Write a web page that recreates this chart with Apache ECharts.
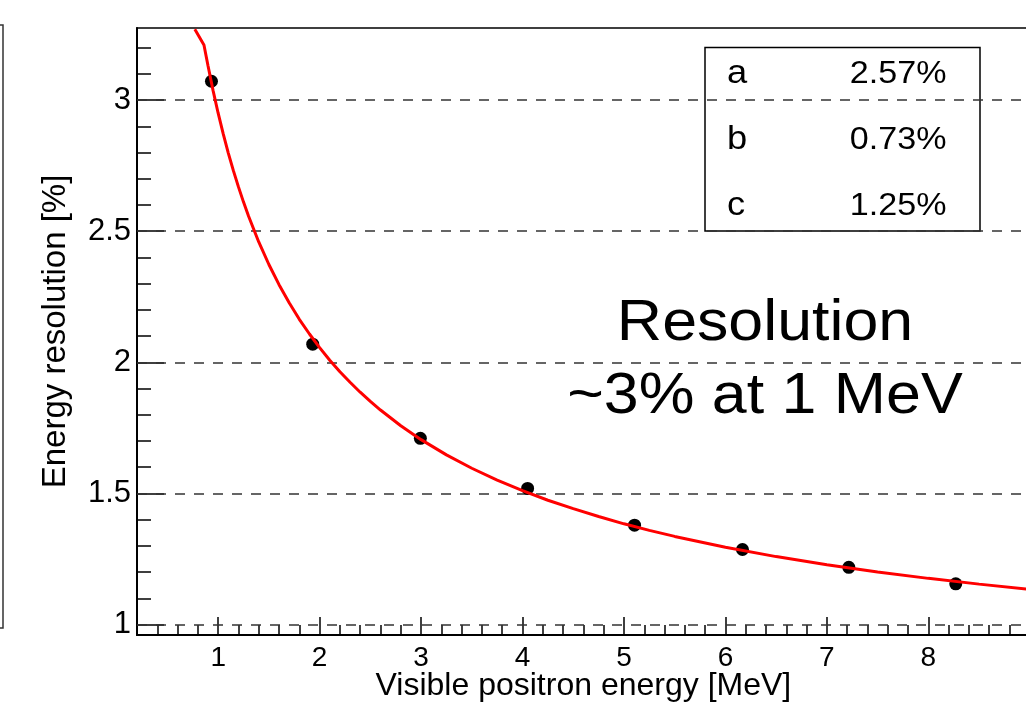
<!DOCTYPE html>
<html>
<head>
<meta charset="utf-8">
<script src="https://cdn.jsdelivr.net/npm/echarts@6/dist/echarts.min.js"></script>
<style>
  html, body { margin: 0; padding: 0; background: #ffffff; }
  #chart { width: 1026px; height: 707px; }
</style>
</head>
<body>
<div id="chart"></div>
<script>
// Measured points: visible positron energy [MeV] vs. energy resolution [%]
const energy     = [0.934, 1.932, 2.993, 4.050, 5.104, 6.168, 7.216, 8.270];
const resolution = [3.072, 2.069, 1.710, 1.519, 1.379, 1.286, 1.218, 1.155];

// Fitted resolution curve, sampled along the energy axis
const fitEnergy = [0.77, 0.86, 0.90, 0.95, 1.00, 1.05, 1.10, 1.15, 1.20, 1.25,
                   1.30, 1.40, 1.50, 1.60, 1.70, 1.80, 1.90, 2.00, 2.10, 2.20,
                   2.30, 2.40, 2.50, 2.60, 2.80, 3.00, 3.25, 3.50, 3.75, 4.00,
                   4.25, 4.50, 4.75, 5.00, 5.25, 5.50, 6.00, 6.50, 7.00, 7.50,
                   8.00, 8.50, 9.00];
const fitResolution = [3.270, 3.210, 3.131, 3.036, 2.950, 2.871, 2.798, 2.731, 2.669, 2.611,
                       2.557, 2.459, 2.373, 2.296, 2.227, 2.164, 2.108, 2.056, 2.008, 1.964,
                       1.924, 1.886, 1.851, 1.818, 1.758, 1.705, 1.647, 1.596, 1.551, 1.511,
                       1.474, 1.442, 1.412, 1.384, 1.359, 1.336, 1.295, 1.259, 1.228, 1.200,
                       1.176, 1.154, 1.134];

// Fit parameters shown in the stats box
const fitParams = ['a', 'b', 'c'];
const fitValues = ['2.57%', '0.73%', '1.25%'];

// Axis ticks and labels
const xLabels = [1, 2, 3, 4, 5, 6, 7, 8];
const xMajorTicks = [1, 2, 3, 4, 5, 6, 7, 8, 9];
const yMajorTicks = [1, 1.5, 2, 2.5, 3];
const xMinorTicks = [];
for (let k = 2; k <= 44; k++) xMinorTicks.push(Math.round(k * 2) / 10);
const yMinorTicks = [];
for (let k = 10; k <= 32; k++) yMinorTicks.push(k / 10);

const FONT = "'Liberation Sans', Arial, Helvetica, sans-serif";
const X_MIN = 0.2, X_MAX = 9.0, Y_MIN = 0.96, Y_MAX = 3.275;

const chart = echarts.init(document.getElementById('chart'), null, { renderer: 'canvas' });

const option = {
  animation: false,
  backgroundColor: '#ffffff',
  textStyle: { fontFamily: FONT, color: '#000' },
  grid: [
    { left: 137, top: 28, width: 892.8, height: 607, show: true, outerBoundsMode: 'none',
      borderColor: '#000', borderWidth: 1.5, backgroundColor: 'transparent', containLabel: false },
    // neighbouring panel frame at the left margin
    { left: -100, top: 25, width: 103, height: 603, show: true, outerBoundsMode: 'none',
      borderColor: '#333', borderWidth: 1.5, backgroundColor: 'transparent', containLabel: false }
  ],
  xAxis: [
    {
      gridIndex: 0, type: 'value', min: X_MIN, max: X_MAX, position: 'bottom',
      axisLine: { show: true, onZero: false, lineStyle: { color: '#000', width: 2 } },
      axisTick: { show: true, inside: true, length: 18, customValues: xMajorTicks,
                  lineStyle: { color: '#000', width: 1.5 } },
      axisLabel: { show: true, customValues: xLabels, fontSize: 28, color: '#000',
                   margin: 9, fontFamily: FONT },
      splitLine: { show: false },
      name: 'Visible positron energy [MeV]', nameLocation: 'middle', nameGap: 35,
      nameMoveOverlap: false,
      nameTextStyle: { fontSize: 32, color: '#000', fontFamily: FONT }
    },
    {
      gridIndex: 0, type: 'value', min: X_MIN, max: X_MAX, position: 'bottom',
      axisLine: { show: false },
      axisTick: { show: true, inside: true, length: 10, customValues: xMinorTicks,
                  lineStyle: { color: '#000', width: 1.5 } },
      axisLabel: { show: false }, splitLine: { show: false }
    },
    { gridIndex: 1, type: 'value', show: false, min: 0, max: 1 }
  ],
  yAxis: [
    {
      gridIndex: 0, type: 'value', min: Y_MIN, max: Y_MAX, position: 'left',
      axisLine: { show: true, onZero: false, lineStyle: { color: '#000', width: 2 } },
      axisTick: { show: true, inside: true, length: 27, customValues: yMajorTicks,
                  lineStyle: { color: '#000', width: 1.5 } },
      axisLabel: { show: true, customValues: yMajorTicks, fontSize: 31, color: '#000',
                   margin: 6, fontFamily: FONT },
      splitLine: { show: false },
      name: 'Energy resolution [%]', nameLocation: 'middle', nameGap: 65,
      nameMoveOverlap: false,
      nameTextStyle: { fontSize: 33, color: '#000', fontFamily: FONT }
    },
    {
      gridIndex: 0, type: 'value', min: Y_MIN, max: Y_MAX, position: 'left',
      axisLine: { show: false },
      axisTick: { show: true, inside: true, length: 14, customValues: yMinorTicks,
                  lineStyle: { color: '#000', width: 1.5 } },
      axisLabel: { show: false }, splitLine: { show: false }
    },
    {
      gridIndex: 1, type: 'value', min: 0, max: 7.9, interval: 1, inverse: true, position: 'right',
      axisLine: { show: true, lineStyle: { color: '#333', width: 1.5 } },
      axisTick: { show: true, inside: true, length: 8, lineStyle: { color: '#333', width: 1.5 } },
      axisLabel: { show: false }, splitLine: { show: false }
    }
  ],
  series: [
    {
      name: 'data', type: 'scatter', xAxisIndex: 0, yAxisIndex: 0,
      data: energy.map((e, i) => [e, resolution[i]]),
      symbol: 'circle', symbolSize: 13,
      itemStyle: { color: '#000', opacity: 1 }, z: 3,
      markLine: {
        silent: true, symbol: ['none', 'none'], label: { show: false },
        lineStyle: { type: [10, 9], color: '#333', width: 1.5, opacity: 1 },
        emphasis: { disabled: true },
        data: yMajorTicks.map(v => ({ yAxis: v })),
        z: 1
      }
    },
    {
      name: 'fit', type: 'line', xAxisIndex: 0, yAxisIndex: 0,
      data: fitEnergy.map((e, i) => [e, fitResolution[i]]),
      showSymbol: false, smooth: false, clip: true,
      lineStyle: { color: '#ff0000', width: 3 }, z: 4
    }
  ],
  graphic: [
    {
      type: 'group', z: 100,
      children: [
        { type: 'rect', shape: { x: 705, y: 47.5, width: 275, height: 183.5 },
          style: { fill: '#ffffff', stroke: '#000', lineWidth: 1.5 } }
      ].concat(fitParams.map((p, i) => ({
        type: 'text', x: 727, y: 74 + i * 66, scaleX: 1.1,
        style: { text: p, font: '33px ' + FONT, fill: '#000',
                 textAlign: 'left', textVerticalAlign: 'middle' }
      }))).concat(fitValues.map((v, i) => ({
        type: 'text', x: 946.5, y: 74 + i * 66, scaleX: 1.1,
        style: { text: v, font: '31px ' + FONT, fill: '#000',
                 textAlign: 'right', textVerticalAlign: 'middle' }
      })))
    },
    {
      type: 'text', x: 765, y: 324, scaleX: 1.1, z: 100,
      style: { text: 'Resolution', font: '57px ' + FONT, fill: '#000',
               textAlign: 'center', textVerticalAlign: 'middle' }
    },
    {
      type: 'text', x: 765, y: 397, scaleX: 1.1, z: 100,
      style: { text: '~3% at 1 MeV', font: '57px ' + FONT, fill: '#000',
               textAlign: 'center', textVerticalAlign: 'middle' }
    }
  ]
};

chart.setOption(option);
</script>
</body>
</html>
